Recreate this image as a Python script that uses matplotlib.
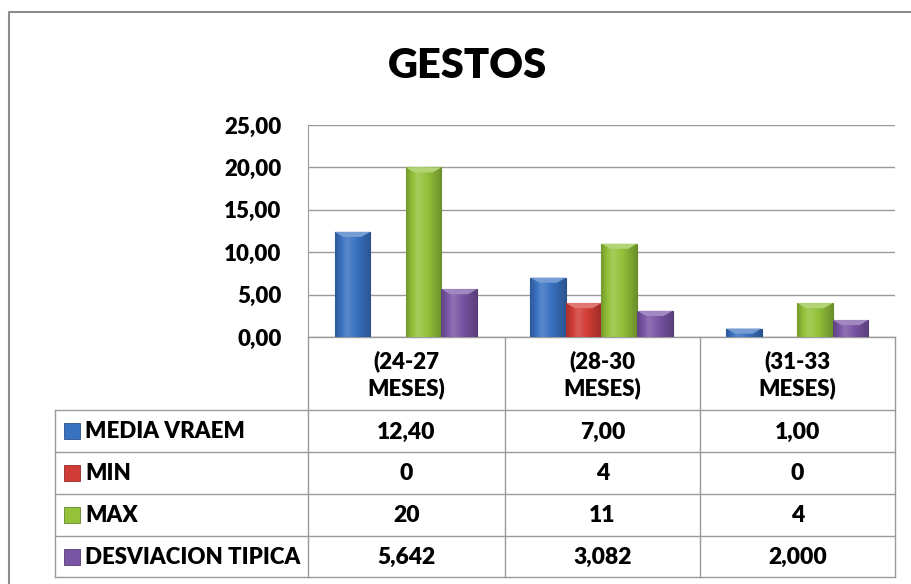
import numpy as np
import matplotlib.pyplot as plt
import matplotlib.colors as mcolors

plt.rcParams["font.family"] = ["Lato", "DejaVu Sans"]
plt.rcParams["font.weight"] = "bold"

# data
categories = ["(24-27\nMESES)", "(28-30\nMESES)", "(31-33\nMESES)"]
series = ["MEDIA VRAEM", "MIN", "MAX", "DESVIACION TIPICA"]
media = [12.40, 7.00, 1.00]
minimo = [0, 4, 0]
maximo = [20, 11, 4]
desv = [5.642, 3.082, 2.000]
table_text = [
    ["12,40", "7,00", "1,00"],
    ["0", "4", "0"],
    ["20", "11", "4"],
    ["5,642", "3,082", "2,000"],
]
yticks = [0, 5, 10, 15, 20, 25]
ytick_labels = ["0,00", "5,00", "10,00", "15,00", "20,00", "25,00"]

colors = ["#3a72c2", "#d23c36", "#93c23a", "#7a55a6"]
W, H = 912, 584
grid_c = "#9a9a9a"
FW = "heavy"

fig = plt.figure(figsize=(W / 100, H / 100), dpi=100)

# overlay in pixel coords for frame and data table
ov = fig.add_axes([0, 0, 1, 1])
ov.set_xlim(0, W)
ov.set_ylim(H, 0)
ov.axis("off")

# plot area
x0, x1, y_top, y_bot = 308, 895, 125, 337
ax = fig.add_axes([x0 / W, 1 - y_bot / H, (x1 - x0) / W, (y_bot - y_top) / H])
ax.set_xlim(-0.5, 2.5)
ax.set_ylim(0, 25)
ax.set_facecolor("none")

values = [media, minimo, maximo, desv]
n = len(series)
bw = 1 / (n + 1.5)
xs = np.arange(len(categories))


def shade(c, f):
    r, g, b = mcolors.to_rgb(c)
    if f < 1:
        return (r * f, g * f, b * f)
    return (r + (1 - r) * (f - 1), g + (1 - g) * (f - 1), b + (1 - b) * (f - 1))


for j, (vals, c) in enumerate(zip(values, colors)):
    pos = xs + (j - (n - 1) / 2) * bw
    bars = ax.bar(pos, vals, width=bw, color=c, edgecolor=shade(c, 0.7),
                  linewidth=0.8, zorder=3)
    # horizontal gradient to mimic bevelled Excel bars
    grad = np.array([shade(c, f) for f in np.concatenate(
        [np.linspace(0.8, 1.15, 8), np.linspace(1.15, 0.75, 16)])])[None, :, :]
    for b, v in zip(bars, vals):
        if v <= 0:
            continue
        im = ax.imshow(grad, extent=[b.get_x(), b.get_x() + bw, 0, v],
                       aspect="auto", zorder=3.5, interpolation="bicubic")
        im.set_clip_path(b)
        # lighter top cap
        ax.fill([b.get_x(), b.get_x() + bw, b.get_x() + bw * 0.75, b.get_x() + bw * 0.25],
                [v, v, v - 0.6, v - 0.6], color=shade(c, 1.3), lw=0, zorder=4)

ax.set_yticks(yticks)
ax.set_yticklabels(ytick_labels, fontsize=16, fontweight=FW)
ax.set_xticks([])
ax.tick_params(axis="y", length=0, pad=19)
ax.yaxis.grid(True, color=grid_c, lw=1)
ax.set_axisbelow(True)
for s in ["top", "right", "bottom"]:
    ax.spines[s].set_visible(False)
ax.spines["left"].set_color(grid_c)

# outer frame
ov.plot([9, 9, W + 5], [H + 5, 12, 12], color="#8c8c8c", lw=1.5)

ov.text(468, 66, "GESTOS", ha="center", va="center", fontsize=30, fontweight=FW)

# data table
col_edges = [308, 505, 700, 895]
row_edges = [410, 452, 494, 536, 577]
tx0 = 55
ov.plot([x0, x1], [y_bot, y_bot], color=grid_c, lw=1)
for xe in col_edges:
    ov.plot([xe, xe], [y_bot, row_edges[-1]], color=grid_c, lw=1)
for ye in row_edges:
    ov.plot([tx0, x1], [ye, ye], color=grid_c, lw=1)
ov.plot([tx0, tx0], [row_edges[0], row_edges[-1]], color=grid_c, lw=1)

for i, cat in enumerate(categories):
    cx = (col_edges[i] + col_edges[i + 1]) / 2
    ov.text(cx, (y_bot + row_edges[0]) / 2 + 1, cat, ha="center", va="center",
            fontsize=16, fontweight=FW, linespacing=1.3)

for r, name in enumerate(series):
    cy = (row_edges[r] + row_edges[r + 1]) / 2
    ov.add_patch(plt.Rectangle((64, cy - 8), 16, 16, facecolor=colors[r],
                               edgecolor=shade(colors[r], 0.7), lw=0.6))
    ov.text(85, cy + 1, name, ha="left", va="center", fontsize=16, fontweight=FW)
    for i in range(len(categories)):
        cx = (col_edges[i] + col_edges[i + 1]) / 2
        ov.text(cx, cy + 1, table_text[r][i], ha="center", va="center",
                fontsize=16.5, fontweight=FW)

fig.savefig("out.png", dpi=100)
